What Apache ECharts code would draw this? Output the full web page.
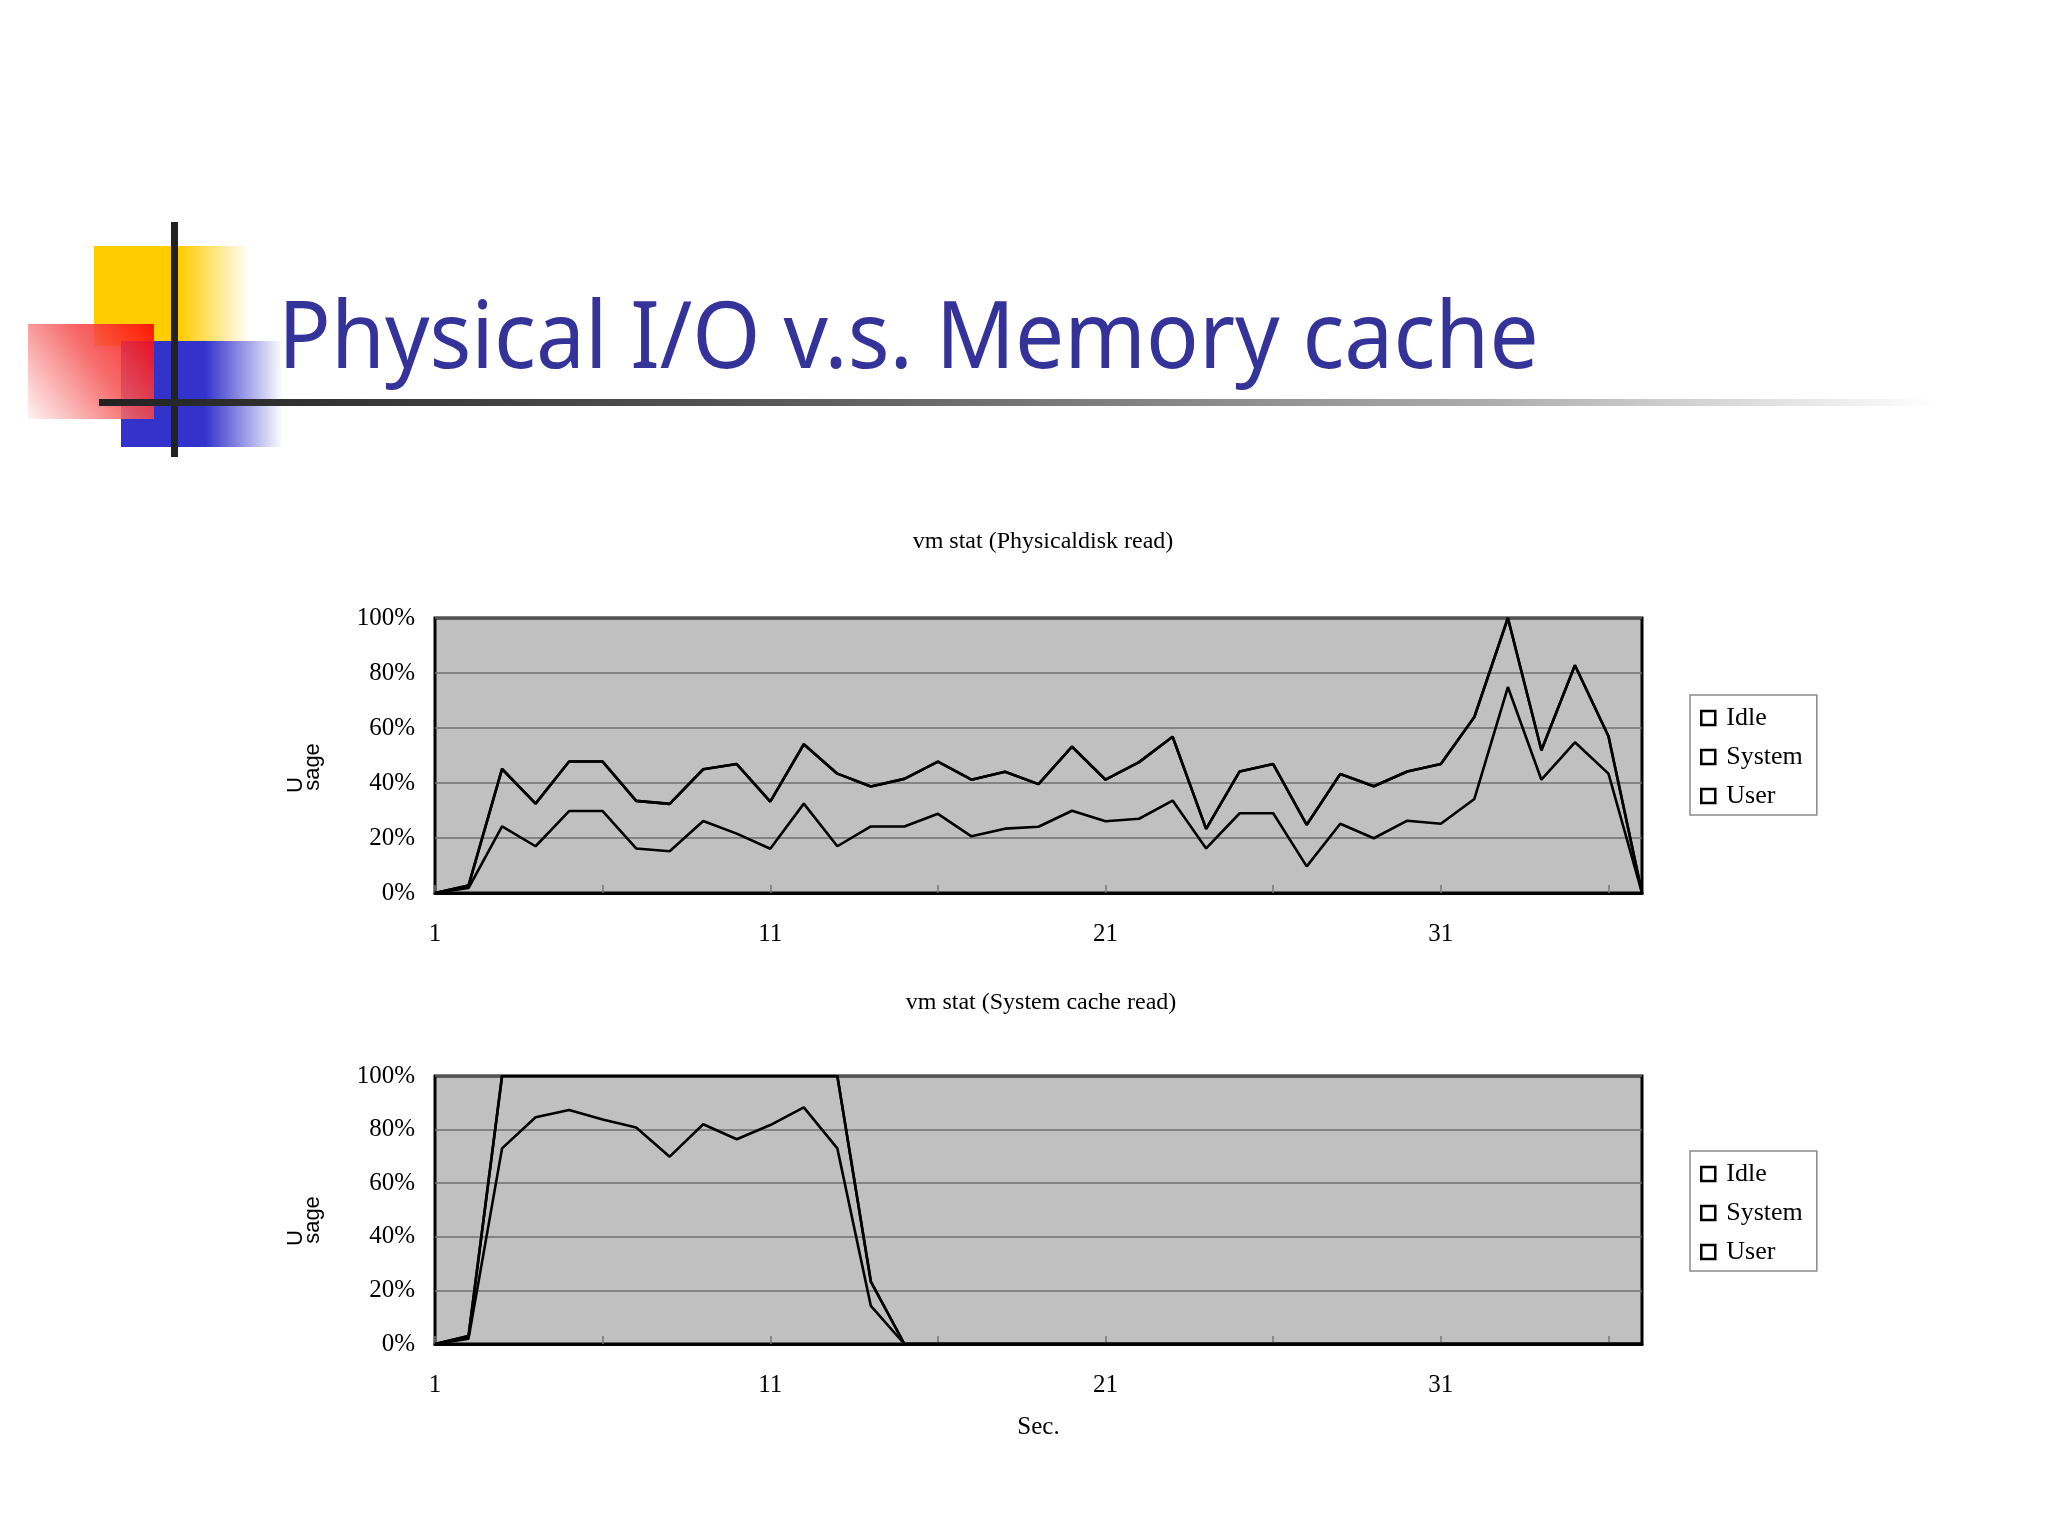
<!DOCTYPE html>
<html><head><meta charset="utf-8">
<script src="https://cdn.jsdelivr.net/npm/echarts@6/dist/echarts.min.js"></script>
<style>html,body{margin:0;padding:0;background:#fff}#c{width:2048px;height:1536px}</style>
</head><body><div id="c"></div>
<script>
// ---- data ----
const seconds = ['1','2','3','4','5','6','7','8','9','10','11','12','13','14','15','16','17','18','19','20','21','22','23','24','25','26','27','28','29','30','31','32','33','34','35','36','37'];
const yTicks = [0, 20, 40, 60, 80, 100];
const legendNames = ['Idle', 'System', 'User'];

// vm stat (Physical disk read)
const physUser   = [0,1.8,24.2,17.0,29.8,29.8,16.2,15.2,26.2,21.6,16.1,32.5,17.0,24.2,24.2,28.8,20.6,23.4,24.1,29.9,26.1,27.0,33.6,16.2,29.0,29.0,9.7,25.2,19.9,26.3,25.2,34.2,74.9,41.2,54.8,43.4,0];
const physSystem = [0,0.9,20.9,15.5,18.0,18.0,17.3,17.2,18.8,25.3,17.1,21.6,26.4,14.5,17.3,19.0,20.6,20.7,15.5,23.3,15.1,20.6,23.2,7.1,15.2,17.9,15.1,18.1,18.9,17.9,21.7,29.8,25.1,10.7,28.0,13.6,0];
const physIdle   = [0,0,0,0,0,0,0,0,0,0,0,0,0,0,0,0,0,0,0,0,0,0,0,0,0,0,0,0,0,0,0,0,0,0,0,0,0];

// vm stat (System cache read)
const cacheUser   = [0,2.0,73.0,84.6,87.3,83.8,80.8,69.9,82.0,76.4,81.7,88.3,73.0,14.2,0,0,0,0,0,0,0,0,0,0,0,0,0,0,0,0,0,0,0,0,0,0,0];
const cacheSystem = [0,1.0,27.0,15.4,12.7,16.2,19.2,30.1,18.0,23.6,18.3,11.7,27.0,9.1,0,0,0,0,0,0,0,0,0,0,0,0,0,0,0,0,0,0,0,0,0,0,0];
const cacheIdle   = [0,0,0,0,0,0,0,0,0,0,0,0,0,0,0,0,0,0,0,0,0,0,0,0,0,0,0,0,0,0,0,0,0,0,0,0,0];

const pageTitle = 'Physical I/O v.s. Memory cache';
const chartTitles = ['vm stat (Physicaldisk read)', 'vm stat (System cache read)'];

// ---- chart ----
const SERIF = 'Liberation Serif';
const chart = echarts.init(document.getElementById('c'), null, {renderer:'canvas'});

function gridCfg(top, height){
  return {left:435, top:top, width:1207, height:height, show:true,
    backgroundColor:'#c0c0c0', borderColor:'#000', borderWidth:3, containLabel:false};
}
function xAxisCfg(idx, name){
  return {type:'category', gridIndex:idx, data:seconds, boundaryGap:false,
    name:name, nameLocation:'middle', nameGap:71,
    nameTextStyle:{fontFamily:SERIF, fontSize:25, color:'#000'},
    axisLine:{show:true, lineStyle:{color:'#000', width:3}},
    axisTick:{show:true, inside:true, interval:4, length:8, lineStyle:{color:'#777', width:1.5}},
    axisLabel:{interval:9, margin:29, fontFamily:SERIF, fontSize:25, color:'#000'},
    splitLine:{show:false}};
}
function yAxisCfg(idx){
  return {type:'value', gridIndex:idx, min:yTicks[0], max:yTicks[yTicks.length-1], interval:20,
    axisLine:{show:false}, axisTick:{show:false},
    axisLabel:{margin:20, fontFamily:SERIF, fontSize:25, color:'#000', formatter:'{value}%', padding:[6,0,0,0]},
    splitLine:{show:true, lineStyle:{color:'#6f6f6f', width:1.5}}};
}
function lineSeries(name, data, idx, stack){
  return {type:'line', name:name, data:data, xAxisIndex:idx, yAxisIndex:idx, stack:stack,
    symbol:'none', showSymbol:false, silent:true, animation:false,
    lineStyle:{color:'#000', width:2.6}, itemStyle:{color:'#000'}, z:3};
}
function legendCfg(top){
  return {top:top, left:1690, orient:'vertical', data:legendNames, selectedMode:false,
    icon:'rect', itemWidth:14, itemHeight:14, itemGap:13,
    backgroundColor:'#fff', borderColor:'#8a8a8a', borderWidth:1.5, borderRadius:0,
    padding:[10,14,6,10],
    itemStyle:{color:'#fff', borderColor:'#000', borderWidth:2.5},
    textStyle:{fontFamily:SERIF, fontSize:26, color:'#000', padding:[0,0,0,6]}};
}
function hGrad(stops){ return new echarts.graphic.LinearGradient(0,0,1,0, stops); }

const graphics = [
  // decorative squares
  {type:'rect', shape:{x:94, y:246, width:156, height:100},
    style:{fill:hGrad([{offset:0,color:'#ffcc00'},{offset:0.55,color:'#ffcc00'},{offset:1,color:'#ffffff'}])}, z:1},
  {type:'rect', shape:{x:121, y:341, width:162, height:106},
    style:{fill:hGrad([{offset:0,color:'#3333cc'},{offset:0.52,color:'#3333cc'},{offset:1,color:'#ffffff'}])}, z:2},
  {type:'rect', shape:{x:28, y:324, width:126, height:95},
    style:{fill:new echarts.graphic.LinearGradient(1,0,0,1,[{offset:0,color:'#ff0000'},{offset:0.45,color:'#f55a5a'},{offset:1,color:'#fff2f2'}]), opacity:0.88}, z:3},
  {type:'rect', shape:{x:171, y:222, width:7, height:235}, style:{fill:'#222'}, z:4},
  {type:'rect', shape:{x:99, y:399, width:1836, height:7},
    style:{fill:hGrad([{offset:0,color:'#222'},{offset:0.35,color:'#555'},{offset:0.75,color:'#aaa'},{offset:1,color:'#ffffff'}])}, z:5},
  // slide title
  {type:'text', x:278, y:294, scaleX:0.93, scaleY:1, z:6,
    style:{text:pageTitle, fill:'#333399', font:'94px "Noto Sans"', textAlign:'left', textVerticalAlign:'top'}},
  // chart titles
  {type:'text', x:1043, y:542, z:6,
    style:{text:chartTitles[0], fill:'#000', font:'24px "Liberation Serif"', textAlign:'center', textVerticalAlign:'middle'}},
  {type:'text', x:1041, y:1003, z:6,
    style:{text:chartTitles[1], fill:'#000', font:'24px "Liberation Serif"', textAlign:'center', textVerticalAlign:'middle'}},
  // Usage labels
  {type:'text', x:296, y:785, rotation:Math.PI/2, z:6,
    style:{text:'U', fill:'#000', font:'22px "Liberation Sans"', textAlign:'center', textVerticalAlign:'middle'}},
  {type:'text', x:313, y:767, rotation:Math.PI/2, z:6,
    style:{text:'sage', fill:'#000', font:'22px "Liberation Sans"', textAlign:'center', textVerticalAlign:'middle'}},
  {type:'text', x:296, y:1238, rotation:Math.PI/2, z:6,
    style:{text:'U', fill:'#000', font:'22px "Liberation Sans"', textAlign:'center', textVerticalAlign:'middle'}},
  {type:'text', x:313, y:1220, rotation:Math.PI/2, z:6,
    style:{text:'sage', fill:'#000', font:'22px "Liberation Sans"', textAlign:'center', textVerticalAlign:'middle'}}
];

chart.setOption({
  animation:false,
  backgroundColor:'#fff',
  grid:[gridCfg(618, 275), gridCfg(1076, 268)],
  xAxis:[xAxisCfg(0, ''), xAxisCfg(1, 'Sec.')],
  yAxis:[yAxisCfg(0), yAxisCfg(1)],
  legend:[legendCfg(695), legendCfg(1151)],
  series:[
    lineSeries('User', physUser, 0, 'phys'),
    lineSeries('System', physSystem, 0, 'phys'),
    lineSeries('Idle', physIdle, 0, 'phys'),
    lineSeries('User', cacheUser, 1, 'cache'),
    lineSeries('System', cacheSystem, 1, 'cache'),
    lineSeries('Idle', cacheIdle, 1, 'cache')
  ],
  graphic:graphics
});
</script></body></html>
